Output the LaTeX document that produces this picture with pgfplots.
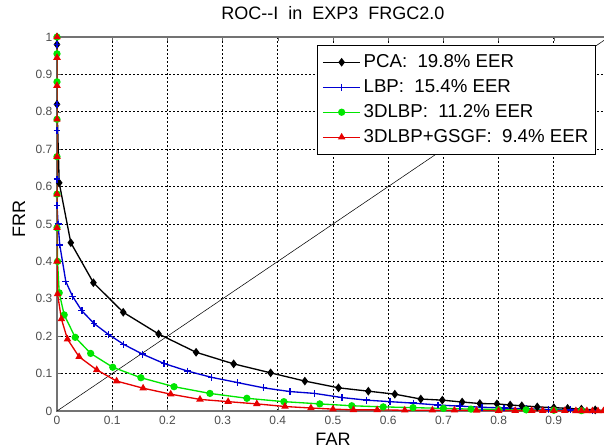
\documentclass[border=0pt]{standalone}
\usepackage{fontspec}
\setmainfont{Liberation Sans}
\usepackage{pgfplots}
\pgfplotsset{compat=1.18}
\definecolor{mgreen}{RGB}{0,230,0}
\definecolor{mblue}{RGB}{0,0,210}
\definecolor{mred}{RGB}{230,0,0}
\begin{document}
\begin{tikzpicture}
\begin{axis}[
  name=ax,
  scale only axis, width=414pt, height=280.5pt,
  xmin=0, xmax=1, ymin=0, ymax=1,
  xtick={0,0.1,0.2,0.3,0.4,0.5,0.6,0.7,0.8,0.9,1},
  ytick={0,0.1,0.2,0.3,0.4,0.5,0.6,0.7,0.8,0.9,1},
  xticklabels={0,0.1,0.2,0.3,0.4,0.5,0.6,0.7,0.8,0.9,{}},
  yticklabels={0,0.1,0.2,0.3,0.4,0.5,0.6,0.7,0.8,0.9,1},
  grid=major,
  grid style={black, line width=0.5pt, dash pattern=on 1.5pt off 1.5pt},
  axis line style={black!55, line width=0.8pt},
  tick align=inside, major tick length=3pt,
  tick style={black!60},
  tick label style={font=\fontsize{9}{10}\selectfont, text=black!70},
  /pgf/number format/assume math mode=true,
  title={ROC{-}{-}I \ in \ EXP3 \ FRGC2.0},
  title style={font=\fontsize{13.5}{15}\selectfont, at={(0.5,1)}, anchor=base, yshift=6.75pt},
  xlabel={FAR}, ylabel={FRR},
  label style={font=\fontsize{13.5}{15}\selectfont},
  xlabel style={at={(axis description cs:0.5,0)}, anchor=base, yshift=-25.5pt},
  ylabel style={at={(axis description cs:-0.0688,0.513)}, anchor=center},
  legend style={at={(rel axis cs:1,1)}, anchor=north east, xshift=-9.75pt, yshift=-6pt,
    draw=black, line width=0.6pt,
    font=\fontsize{14}{16}\selectfont, row sep=3.5pt, inner xsep=3.5pt, inner ysep=5pt},
  legend cell align=left,
  legend image code/.code={\draw[mark repeat=2, mark phase=2, #1]
    plot coordinates {(0pt,0pt) (14pt,0pt) (28pt,0pt)};},
  every axis plot/.append style={line width=1pt},
]
\addplot[black, thin, line width=0.4pt, forget plot] coordinates {(0,0) (1,1)};
% PCA
\addplot[black, mark=diamond*, mark size=2.5pt] coordinates {
 (0,1) (0,0.98) (0,0.82) (0.004,0.61) (0.025,0.45) (0.066,0.343) (0.12,0.264)
 (0.184,0.206) (0.252,0.157) (0.32,0.126) (0.387,0.102) (0.449,0.080) (0.51,0.062)
 (0.564,0.053) (0.612,0.045) (0.659,0.032) (0.698,0.029) (0.734,0.024) (0.766,0.020)
 (0.797,0.019) (0.821,0.016) (0.842,0.014) (0.87,0.011) (0.90,0.009) (0.925,0.007)
 (0.95,0.005) (0.975,0.003) (1,0)
};
\addlegendentry{PCA:\ \ 19.8\% EER}
% LBP
\addplot[mblue, mark=+, mark size=2.6pt] coordinates {
 (0,1) (0,0.98) (0,0.82) (0,0.75) (0,0.62) (0,0.55) (0.002,0.5) (0.005,0.444)
 (0.016,0.346) (0.028,0.307) (0.045,0.268) (0.067,0.234) (0.093,0.205) (0.121,0.178)
 (0.155,0.152) (0.194,0.127) (0.236,0.107) (0.28,0.090) (0.327,0.076) (0.374,0.062)
 (0.422,0.052) (0.467,0.047) (0.516,0.036) (0.561,0.029) (0.603,0.025) (0.646,0.021)
 (0.69,0.016) (0.73,0.013) (0.77,0.010) (0.81,0.008) (0.85,0.006) (0.89,0.004)
 (0.93,0.003) (0.97,0.001) (1,0)
};
\addlegendentry{LBP:\ \ 15.4\% EER}
% 3DLBP
\addplot[mgreen, mark=*, mark size=2.2pt] coordinates {
 (0,1) (0,0.955) (0,0.88) (0,0.78) (0,0.68) (0,0.58) (0,0.49) (0.001,0.40)
 (0.004,0.316) (0.013,0.257) (0.033,0.197) (0.061,0.154) (0.101,0.117) (0.152,0.089)
 (0.212,0.065) (0.277,0.047) (0.344,0.034) (0.411,0.025) (0.476,0.019) (0.534,0.014)
 (0.591,0.011) (0.645,0.009) (0.70,0.007) (0.75,0.005) (0.80,0.004) (0.85,0.003)
 (0.90,0.002) (0.95,0.001) (1,0)
};
\addlegendentry{3DLBP:\ \ 11.2\% EER}
% 3DLBP+GSGF
\addplot[mred, mark=triangle*, mark size=2.3pt] coordinates {
 (0,1) (0,0.945) (0,0.87) (0,0.78) (0,0.68) (0,0.58) (0,0.49) (0,0.40)
 (0.001,0.313) (0.008,0.246) (0.019,0.192) (0.04,0.145) (0.072,0.110) (0.108,0.080)
 (0.156,0.061) (0.206,0.045) (0.259,0.031) (0.31,0.025) (0.362,0.019) (0.413,0.012)
 (0.46,0.008) (0.5,0.005) (0.537,0.003) (0.58,0.003) (0.63,0.002) (0.68,0.002)
 (0.72,0.002) (0.76,0.0015) (0.80,0.001) (0.83,0.001) (0.86,0.001) (0.88,0.0008)
 (0.90,0.0007) (0.92,0.0006) (0.94,0.0005) (0.95,0.0004) (0.96,0.0003) (0.97,0.0002)
 (0.98,0.0001) (0.99,0.0001) (1,0)
};
\addlegendentry{3DLBP+GSGF:\ \ 9.4\% EER}
\end{axis}
\pgfresetboundingbox
\path ([xshift=-42.75pt, yshift=-27pt]ax.south west) rectangle ([xshift=-3.75pt, yshift=27.75pt]ax.north east);
\end{tikzpicture}
\end{document}
